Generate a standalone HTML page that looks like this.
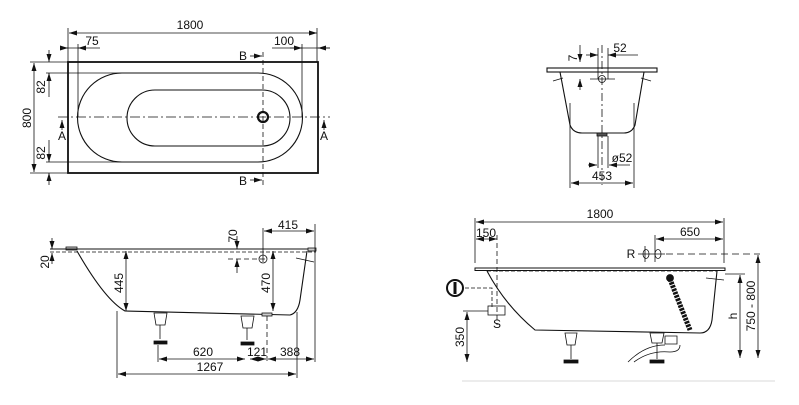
<!DOCTYPE html>
<html><head><meta charset="utf-8"><style>
html,body{margin:0;padding:0;background:#fff;width:799px;height:405px;overflow:hidden}
svg text{font-family:"Liberation Sans",sans-serif;font-size:12px;fill:#111}
</style></head><body>
<svg width="799" height="405" viewBox="0 0 799 405" xmlns="http://www.w3.org/2000/svg">
<defs>
<marker id="a" markerWidth="8" markerHeight="6" refX="8" refY="3" orient="auto-start-reverse" markerUnits="userSpaceOnUse"><path d="M0,0.5 L8,3 L0,5.5z" fill="#111"/></marker>
</defs>
<g stroke="#111" fill="none" stroke-width="0.8">
<rect x="68" y="62" width="250" height="111" stroke-width="1.8"/>
<path d="M122,73 H258 A44.5,44.5 0 0 1 258,162 H122 A44.5,44.5 0 0 1 122,73z" stroke-width="1.1"/>
<path d="M155,90 H262 A28,28 0 0 1 262,146 H155 A28,28 0 0 1 155,90z" stroke-width="1.1"/>
<circle cx="263" cy="117" r="5" stroke-width="2.2"/>
<line x1="58" y1="117" x2="330" y2="117" stroke-dasharray="10,3,2,3"/>
<line x1="263" y1="52" x2="263" y2="186" stroke-dasharray="5,3"/>
<line x1="69" y1="33" x2="317" y2="33" marker-start="url(#a)" marker-end="url(#a)"/>
<line x1="68" y1="28" x2="68" y2="62"/><line x1="317" y1="28" x2="317" y2="62"/>
<line x1="60" y1="48" x2="100" y2="48"/><line x1="60" y1="48" x2="68" y2="48" marker-end="url(#a)"/><line x1="86" y1="48" x2="78" y2="48" marker-end="url(#a)"/>
<line x1="78" y1="44" x2="78" y2="117"/>
<line x1="272" y1="48" x2="330" y2="48"/><line x1="290" y1="48" x2="302" y2="48" marker-end="url(#a)"/><line x1="330" y1="48" x2="318" y2="48" marker-end="url(#a)"/>
<line x1="302" y1="44" x2="302" y2="117"/>
<line x1="34" y1="63" x2="34" y2="172" marker-start="url(#a)" marker-end="url(#a)"/>
<line x1="30" y1="62" x2="68" y2="62"/><line x1="30" y1="173" x2="68" y2="173"/>
<line x1="49" y1="50" x2="49" y2="62" marker-end="url(#a)"/><line x1="49" y1="80" x2="49" y2="73" marker-end="url(#a)"/><line x1="49" y1="73" x2="49" y2="97"/>
<line x1="49" y1="140" x2="49" y2="162" marker-end="url(#a)"/><line x1="49" y1="185" x2="49" y2="173" marker-end="url(#a)"/>
<line x1="46" y1="73" x2="258" y2="73"/><line x1="46" y1="162" x2="258" y2="162"/>
<line x1="250" y1="56" x2="262" y2="56" marker-end="url(#a)"/><line x1="250" y1="180" x2="262" y2="180" marker-end="url(#a)"/>
<line x1="62" y1="130" x2="62" y2="120" marker-end="url(#a)"/><line x1="324" y1="130" x2="324" y2="120" marker-end="url(#a)"/>
<rect x="547" y="68" width="110" height="4" stroke-width="1.1"/>
<path d="M560,72 L570,125 Q573,133 582,133 H624 Q632,133 635,125 L644,72" stroke-width="1.1"/>
<line x1="602" y1="45" x2="602" y2="185" stroke-dasharray="8,3,2,3"/>
<circle cx="602" cy="79" r="3.5"/>
<line x1="590" y1="79" x2="615" y2="79"/>
<line x1="553" y1="81" x2="563" y2="78"/><line x1="641" y1="78" x2="651" y2="81"/>
<rect x="597" y="133" width="10" height="3" fill="#555"/>
<line x1="580" y1="45" x2="580" y2="62" marker-end="url(#a)"/><line x1="580" y1="90" x2="580" y2="79" marker-end="url(#a)"/>
<line x1="586" y1="55" x2="598" y2="55" marker-end="url(#a)"/><line x1="638" y1="55" x2="608" y2="55" marker-end="url(#a)"/>
<line x1="598" y1="48" x2="598" y2="79"/><line x1="608" y1="48" x2="608" y2="79"/>
<line x1="598" y1="136" x2="598" y2="168"/><line x1="608" y1="136" x2="608" y2="168"/>
<line x1="588" y1="165" x2="597" y2="165" marker-end="url(#a)"/><line x1="630" y1="165" x2="609" y2="165" marker-end="url(#a)"/>
<line x1="571" y1="183" x2="633" y2="183" marker-start="url(#a)" marker-end="url(#a)"/>
<line x1="570" y1="103" x2="570" y2="188"/><line x1="634" y1="103" x2="634" y2="188"/>
<rect x="66" y="247" width="11" height="3" fill="#ccc"/>
<line x1="50" y1="249" x2="316" y2="249" stroke-width="1.1"/>
<line x1="50" y1="252" x2="316" y2="252" stroke-dasharray="4,2"/>
<rect x="308" y="248" width="8" height="3" fill="#ccc"/>
<path d="M77,251 Q105,300 125,311 L290,315 Q298,313 300,300 L307,251" stroke-width="1.1"/>
<path d="M154,313 h13 l-2,12 h-9z M160,325 v14" />
<rect x="154" y="341" width="13" height="3" fill="#111"/>
<path d="M241,316 h13 l-2,12 h-9z M247,328 v12"/>
<rect x="241" y="342" width="13" height="3" fill="#111"/>
<rect x="262" y="313" width="10" height="3" fill="#ccc"/>
<line x1="126" y1="251" x2="126" y2="311" marker-start="url(#a)" marker-end="url(#a)"/>
<line x1="273" y1="251" x2="273" y2="311" marker-start="url(#a)" marker-end="url(#a)"/>
<line x1="237" y1="236" x2="237" y2="249" marker-end="url(#a)"/>
<line x1="237" y1="273" x2="237" y2="259" marker-end="url(#a)"/>
<line x1="228" y1="259" x2="268" y2="259" stroke-dasharray="5,3"/>
<circle cx="263" cy="259" r="4"/>
<line x1="263" y1="228" x2="263" y2="262"/>
<line x1="264" y1="231" x2="314" y2="231" marker-start="url(#a)" marker-end="url(#a)"/>
<line x1="315" y1="224" x2="315" y2="362"/>
<line x1="296" y1="258" x2="314" y2="262"/>
<line x1="267" y1="316" x2="267" y2="362" stroke-dasharray="5,3"/>
<line x1="297" y1="312" x2="297" y2="378"/>
<line x1="117" y1="311" x2="117" y2="378"/>
<line x1="158" y1="345" x2="158" y2="362"/>
<line x1="159" y1="359" x2="245" y2="359" marker-start="url(#a)" marker-end="url(#a)"/>
<line x1="250" y1="359" x2="266" y2="359" marker-start="url(#a)" marker-end="url(#a)"/>
<line x1="268" y1="359" x2="314" y2="359" marker-start="url(#a)" marker-end="url(#a)"/>
<line x1="118" y1="374" x2="296" y2="374" marker-start="url(#a)" marker-end="url(#a)"/>
<line x1="52" y1="238" x2="52" y2="249" marker-end="url(#a)"/><line x1="52" y1="264" x2="52" y2="253" marker-end="url(#a)"/>
<line x1="476" y1="222" x2="723" y2="222" marker-start="url(#a)" marker-end="url(#a)"/>
<line x1="475" y1="218" x2="475" y2="263"/><line x1="724" y1="218" x2="724" y2="263"/>
<line x1="476" y1="239" x2="497" y2="239" marker-start="url(#a)" marker-end="url(#a)"/>
<line x1="497" y1="235" x2="497" y2="325" stroke-dasharray="5,3"/>
<line x1="656" y1="239" x2="723" y2="239" marker-start="url(#a)" marker-end="url(#a)"/>
<line x1="655" y1="235" x2="655" y2="262"/><line x1="645" y1="246" x2="645" y2="262"/>
<ellipse cx="646" cy="254" rx="3" ry="4.5"/><ellipse cx="658" cy="254" rx="3" ry="4.5"/>
<line x1="638" y1="254" x2="665" y2="254"/>
<line x1="666" y1="254" x2="760" y2="254" stroke-dasharray="7,4"/>
<rect x="475" y="268" width="250" height="2.5" stroke-width="1"/>
<line x1="487" y1="271" x2="717" y2="271" stroke-dasharray="4,2"/>
<path d="M487,271 Q505,305 535,330 L700,333 Q710,333 712,320 L717,271" stroke-width="1.1"/>
<line x1="706" y1="278" x2="724" y2="280"/>
<path d="M670,279 Q678,300 690,330" stroke-width="5" stroke-dasharray="2.5,1"/>
<circle cx="670" cy="278" r="3.5" fill="#111"/>
<path d="M565,333 h12 l-2,12 h-8z M571,345 v14"/><rect x="564" y="360" width="14" height="3" fill="#111"/>
<path d="M650,333 h14 l-2,10 h-10z M657,343 v16"/><rect x="650" y="360" width="14" height="3" fill="#111"/>
<path d="M665,336 h12 v8 h-12z"/>
<path d="M628,362 Q645,345 665,345 M634,362 Q650,350 670,352 Q680,352 680,345"/>
<line x1="462" y1="381" x2="775" y2="381" stroke="#ccc"/>
<circle cx="455" cy="288" r="8" stroke-width="2"/>
<line x1="455" y1="282" x2="455" y2="294" stroke-width="3"/>
<path d="M465,288 H492 V307" stroke-dasharray="4,2"/>
<rect x="488" y="306" width="17" height="9"/>
<line x1="463" y1="311" x2="488" y2="311"/>
<line x1="467" y1="312" x2="467" y2="362" marker-start="url(#a)" marker-end="url(#a)"/>
<line x1="725" y1="274" x2="745" y2="274"/>
<line x1="740" y1="275" x2="740" y2="358" marker-start="url(#a)" marker-end="url(#a)"/>
<line x1="758" y1="255" x2="758" y2="358" marker-start="url(#a)" marker-end="url(#a)"/>
</g>
<text x="190" y="29" text-anchor="middle">1800</text>
<text x="92" y="45" text-anchor="middle">75</text>
<text x="284" y="45" text-anchor="middle">100</text>
<text x="243" y="60" text-anchor="middle">B</text>
<text x="243" y="185" text-anchor="middle">B</text>
<text x="62" y="140" text-anchor="middle">A</text>
<text x="324" y="140" text-anchor="middle">A</text>
<text transform="translate(31,118) rotate(-90)" text-anchor="middle">800</text>
<text transform="translate(45,87) rotate(-90)" text-anchor="middle">82</text>
<text transform="translate(45,153) rotate(-90)" text-anchor="middle">82</text>
<text x="620" y="52" text-anchor="middle">52</text>
<text transform="translate(577,58) rotate(-90)" text-anchor="middle">7</text>
<text x="622" y="162" text-anchor="middle">ø52</text>
<text x="602" y="180" text-anchor="middle">453</text>
<text x="288" y="229" text-anchor="middle">415</text>
<text transform="translate(237,236) rotate(-90)" text-anchor="middle">70</text>
<text transform="translate(123,283) rotate(-90)" text-anchor="middle">445</text>
<text transform="translate(270,283) rotate(-90)" text-anchor="middle">470</text>
<text transform="translate(49,262) rotate(-90)" text-anchor="middle">20</text>
<text x="203" y="356" text-anchor="middle">620</text>
<text x="257" y="356" text-anchor="middle">121</text>
<text x="290" y="356" text-anchor="middle">388</text>
<text x="210" y="371" text-anchor="middle">1267</text>
<text x="600" y="218" text-anchor="middle">1800</text>
<text x="486" y="237" text-anchor="middle">150</text>
<text x="690" y="236" text-anchor="middle">650</text>
<text x="631" y="258" text-anchor="middle">R</text>
<text x="497" y="328" text-anchor="middle">S</text>
<text transform="translate(464,337) rotate(-90)" text-anchor="middle">350</text>
<text transform="translate(737,316) rotate(-90)" text-anchor="middle">h</text>
<text transform="translate(755,306) rotate(-90)" text-anchor="middle">750 - 800</text>
</svg>
</body></html>
